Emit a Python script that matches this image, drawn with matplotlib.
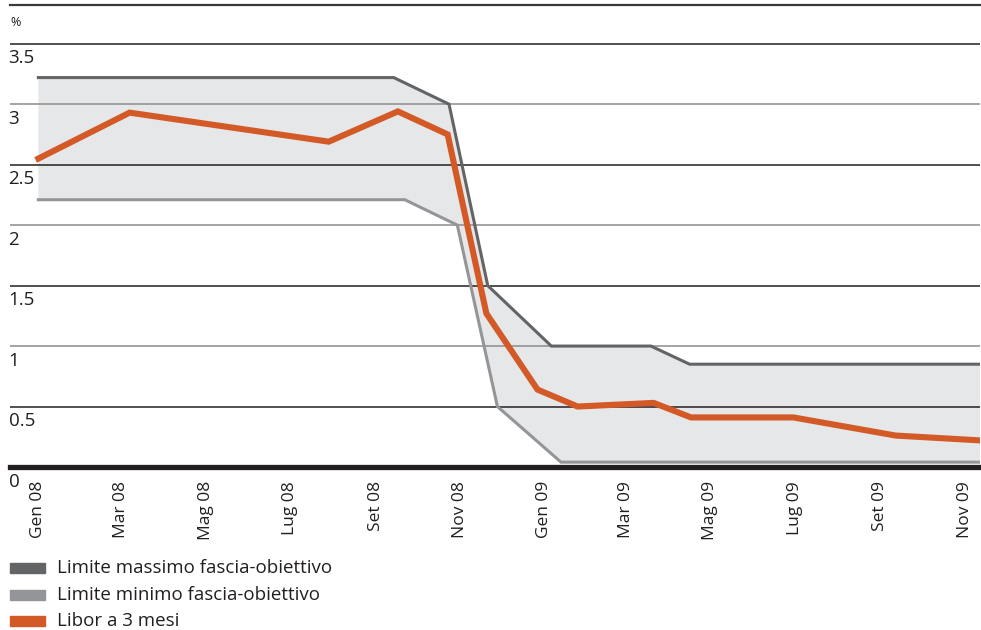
import matplotlib
matplotlib.use("Agg")
import matplotlib.pyplot as plt
import matplotlib.dates as mdates
from matplotlib.transforms import blended_transform_factory
from matplotlib.patches import Rectangle
import numpy as np
import pandas as pd

plt.rcParams['font.family'] = ['Open Sans', 'DejaVu Sans']

# Target band upper limit (%)
upper_dates = ["2008-01-01", "2008-09-14", "2008-10-24", "2008-11-21",
               "2009-01-06", "2009-03-19", "2009-04-16", "2009-11-12"]
upper_vals = [3.22, 3.22, 3.0, 1.5, 1.0, 1.0, 0.85, 0.85]

# Target band lower limit (%)
lower_dates = ["2008-01-01", "2008-09-22", "2008-10-30", "2008-11-28",
               "2009-01-13", "2009-11-12"]
lower_vals = [2.21, 2.21, 2.0, 0.5, 0.04, 0.04]

# 3-month Libor (%)
libor_dates = ["2008-01-01", "2008-03-07", "2008-07-29", "2008-09-17",
               "2008-10-23", "2008-11-20", "2008-12-27", "2009-01-25",
               "2009-03-21", "2009-04-17", "2009-06-30", "2009-09-12",
               "2009-11-12"]
libor_vals = [2.55, 2.93, 2.69, 2.94, 2.75, 1.27, 0.64, 0.50,
              0.53, 0.41, 0.41, 0.26, 0.22]

tick_dates = ["2008-01-01", "2008-03-01", "2008-05-01", "2008-07-01",
              "2008-09-01", "2008-11-01", "2009-01-01", "2009-03-01",
              "2009-05-01", "2009-07-01", "2009-09-01", "2009-11-01"]
tick_labels = ["Gen 08", "Mar 08", "Mag 08", "Lug 08", "Set 08", "Nov 08",
               "Gen 09", "Mar 09", "Mag 09", "Lug 09", "Set 09", "Nov 09"]

y_ticks = [0, 0.5, 1, 1.5, 2, 2.5, 3, 3.5]
y_labels = ["0", "0.5", "1", "1.5", "2", "2.5", "3", "3.5"]

legend_labels = ["Limite massimo fascia-obiettivo",
                 "Limite minimo fascia-obiettivo",
                 "Libor a 3 mesi"]

C_UPPER = "#636466"
C_LOWER = "#939598"
C_LIBOR = "#d35a27"
C_FILL = "#e6e7e8"
C_DARK = "#231f20"
C_GRID = "#8c8c8c"

W, H = 981, 630
fig = plt.figure(figsize=(W / 100, H / 100), dpi=100)
ax = fig.add_axes([10 / W, (H - 467) / H, 970 / W, 462 / H])

xu = mdates.date2num(pd.to_datetime(upper_dates))
xl = mdates.date2num(pd.to_datetime(lower_dates))
xb = mdates.date2num(pd.to_datetime(libor_dates))

# shaded band between the two limits
ax.fill(np.concatenate([xu, xl[::-1]]),
        np.concatenate([upper_vals, lower_vals[::-1]]),
        color=C_FILL, lw=0, zorder=1)

# horizontal gridlines: half-steps dark, whole numbers grey
for v in y_ticks[1:]:
    col = C_GRID if float(v).is_integer() else C_DARK
    ax.axhline(v, color=col, lw=1.1, zorder=2)
ax.axhline(0, color=C_DARK, lw=3.8, zorder=5, clip_on=False)

ax.plot(xu, upper_vals, color=C_UPPER, lw=2.2, zorder=3,
        solid_joinstyle="miter")
ax.plot(xl, lower_vals, color=C_LOWER, lw=2.2, zorder=3,
        solid_joinstyle="miter")
ax.plot(xb, libor_vals, color=C_LIBOR, lw=4.4, zorder=4,
        solid_joinstyle="miter")

x0 = mdates.date2num(pd.Timestamp("2008-01-01"))
ax.set_xlim(x0 - 20.5, x0 + 681)
ax.set_ylim(0, 3.82)

for s in ["left", "right", "bottom"]:
    ax.spines[s].set_visible(False)
ax.spines["top"].set_color("#3a3a3a")
ax.spines["top"].set_linewidth(1.6)

ax.set_yticks([])
ax.set_xticks(mdates.date2num(pd.to_datetime(tick_dates)))
ax.set_xticklabels(tick_labels, rotation=90, fontsize=12.5, color=C_DARK,
                   va="top", ha="center")
ax.tick_params(axis="x", length=0, pad=10)

trans = blended_transform_factory(ax.transAxes, ax.transData)
for v, lab in zip(y_ticks, y_labels):
    ax.annotate(lab, xy=(0, v), xycoords=trans, xytext=(-1, -4),
                textcoords="offset points", ha="left", va="top",
                fontsize=13.5, color=C_DARK, annotation_clip=False)

fig.text(10 / W, 1 - 22 / H, "%", fontsize=9, color=C_DARK,
         ha="left", va="center")

# legend drawn in figure pixels
legend_colors = [C_UPPER, C_LOWER, C_LIBOR]
for i, (lab, col) in enumerate(zip(legend_labels, legend_colors)):
    yc = 568 + i * 26.5
    fig.patches.append(Rectangle((10 / W, 1 - (yc + 5) / H), 35 / W, 10 / H,
                                 transform=fig.transFigure, color=col))
    fig.text(57 / W, 1 - yc / H, lab, fontsize=13.5, color=C_DARK,
             ha="left", va="center")

fig.savefig("out.png", dpi=100)
